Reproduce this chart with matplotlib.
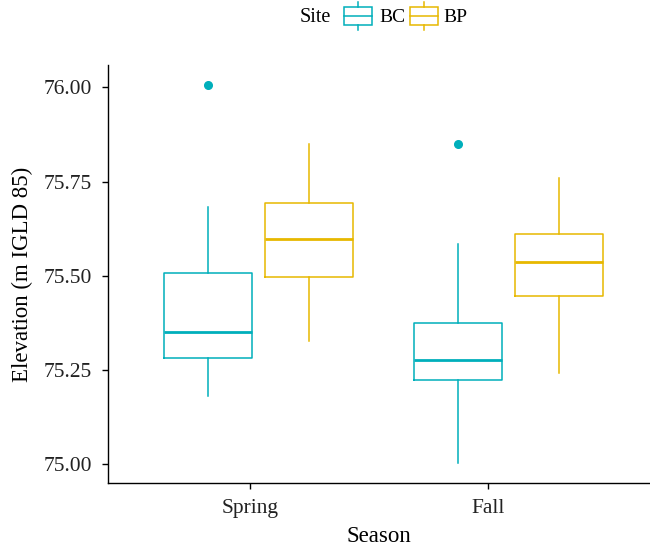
import matplotlib
matplotlib.use("Agg")
import matplotlib.pyplot as plt
from matplotlib.patches import Rectangle
from matplotlib.lines import Line2D

plt.rcParams['font.family'] = ['Liberation Serif', 'DejaVu Serif']

seasons = ['Spring', 'Fall']
sites = ['BC', 'BP']
site_colors = ['#00AFBB', '#E7B800']

# box stats, one value per season
bc_whislo = [75.181, 75.004]
bc_q1 = [75.283, 75.225]
bc_med = [75.350, 75.278]
bc_q3 = [75.508, 75.376]
bc_whishi = [75.683, 75.584]
bc_fliers = [[76.007], [75.849]]

bp_whislo = [75.328, 75.243]
bp_q1 = [75.496, 75.446]
bp_med = [75.598, 75.537]
bp_q3 = [75.694, 75.612]
bp_whishi = [75.850, 75.760]
bp_fliers = [[], []]

yticks = [75.00, 75.25, 75.50, 75.75, 76.00]

# layout
group_shift = [0.036, 0.086]
dodge = 0.212
box_width = 0.37


def make_stats(lo, q1, med, q3, hi, fl):
    out = []
    for i in range(len(lo)):
        out.append({'whislo': lo[i], 'q1': q1[i], 'med': med[i],
                    'q3': q3[i], 'whishi': hi[i], 'fliers': fl[i]})
    return out


all_stats = [
    make_stats(bc_whislo, bc_q1, bc_med, bc_q3, bc_whishi, bc_fliers),
    make_stats(bp_whislo, bp_q1, bp_med, bp_q3, bp_whishi, bp_fliers),
]

fig = plt.figure(figsize=(6.5, 5.5), dpi=100)
ax = fig.add_axes([0.1666, 0.1213, 0.8334, 0.7605])

for k, stats in enumerate(all_stats):
    col = site_colors[k]
    sign = -1 if k == 0 else 1
    pos = [i + 1 + group_shift[i] + sign * dodge for i in range(len(seasons))]
    ax.bxp(stats, positions=pos, widths=box_width, showcaps=False,
           patch_artist=False, manage_ticks=False,
           boxprops=dict(color=col, linewidth=1.1),
           whiskerprops=dict(color=col, linewidth=1.1),
           medianprops=dict(color=col, linewidth=2.0),
           flierprops=dict(marker='o', markersize=5.5, markerfacecolor=col,
                           markeredgecolor=col, linestyle='none'))

ax.set_xlim(0.406, 2.68)
ax.set_ylim(74.95, 76.059)
ax.set_xticks([1, 2])
ax.set_xticklabels(seasons)
ax.set_yticks(yticks)
ax.set_yticklabels([f'{v:.2f}' for v in yticks])
ax.tick_params(labelsize=15.5, length=4, width=1, color='black',
               labelcolor='#222222', pad=7.5)
for s in ['top', 'right']:
    ax.spines[s].set_visible(False)
for s in ['left', 'bottom']:
    ax.spines[s].set_linewidth(1.0)
ax.set_xlabel('Season', fontsize=16.5, labelpad=5.5)
ax.set_ylabel('Elevation (m IGLD 85)', fontsize=16.5, labelpad=8)

# legend on top, drawn in pixel coordinates
W, H = 650, 550


def px(x, y):
    return x / W, 1 - y / H


fig.text(*px(300, 18), 'Site', fontsize=14.5, ha='left', va='center')
key_x = [344, 410]
text_x = [379, 443]
for k, name in enumerate(sites):
    col = site_colors[k]
    x0 = key_x[k]
    x1, y1 = px(x0, 25)
    fig.add_artist(Rectangle((x1, y1), 28 / W, 18 / H, transform=fig.transFigure,
                             fill=False, edgecolor=col, linewidth=1.1))
    xa, ya = px(x0, 16)
    xb, yb = px(x0 + 28, 16)
    fig.add_artist(Line2D([xa, xb], [ya, yb], transform=fig.transFigure,
                          color=col, linewidth=1.1))
    xc, yt = px(x0 + 14, 2)
    _, ytop = px(x0 + 14, 7)
    fig.add_artist(Line2D([xc, xc], [yt, ytop], transform=fig.transFigure,
                          color=col, linewidth=1.1))
    _, ybot = px(x0 + 14, 25)
    _, yend = px(x0 + 14, 30)
    fig.add_artist(Line2D([xc, xc], [ybot, yend], transform=fig.transFigure,
                          color=col, linewidth=1.1))
    fig.text(*px(text_x[k], 18), name, fontsize=14, ha='left', va='center')

fig.savefig('out.png', dpi=100)
